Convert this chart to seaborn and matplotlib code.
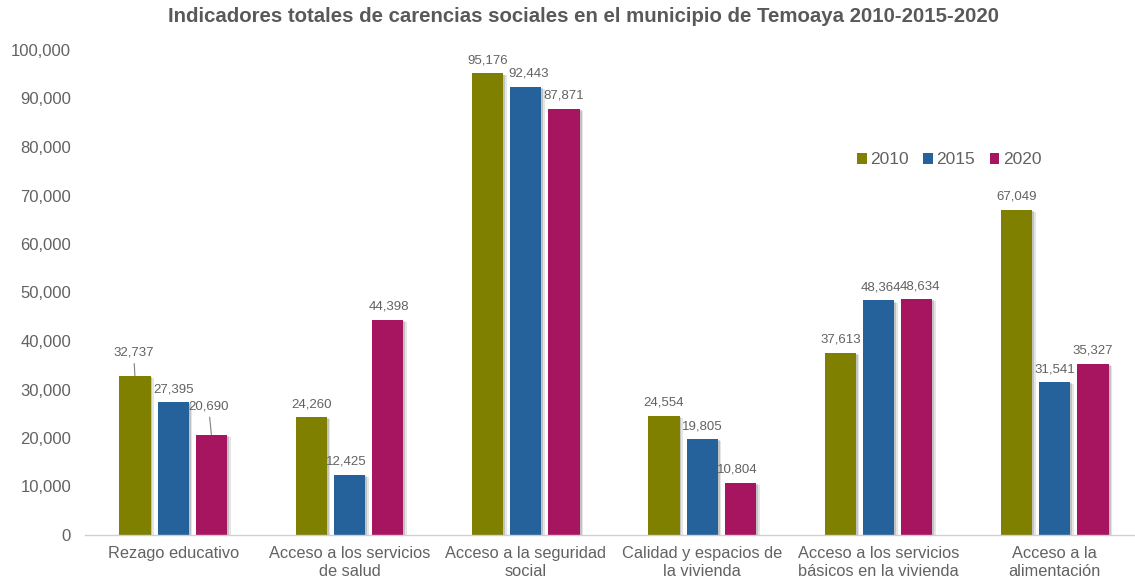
import matplotlib
matplotlib.use("Agg")
import matplotlib.pyplot as plt
import matplotlib.patheffects as pe
import seaborn as sns
import pandas as pd

categories = [
    "Rezago educativo",
    "Acceso a los servicios\nde salud",
    "Acceso a la seguridad\nsocial",
    "Calidad y espacios de\nla vivienda",
    "Acceso a los servicios\nbásicos en la vivienda",
    "Acceso a la\nalimentación",
]
years = ["2010", "2015", "2020"]
values_2010 = [32737, 24260, 95176, 24554, 37613, 67049]
values_2015 = [27395, 12425, 92443, 19805, 48364, 31541]
values_2020 = [20690, 44398, 87871, 10804, 48634, 35327]
y_ticks = list(range(0, 100001, 10000))

colors = ["#7f8000", "#25619a", "#a7145f"]

rows = []
for yr, vals in zip(years, [values_2010, values_2015, values_2020]):
    for c, v in zip(categories, vals):
        rows.append({"cat": c, "year": yr, "value": v})
df = pd.DataFrame(rows)

sns.set_style("white")
plt.rcParams["font.family"] = ["Liberation Sans", "DejaVu Sans"]

TXT = "#626262"

fig = plt.figure(figsize=(11.35, 5.88), dpi=100)
ax = fig.add_axes([85 / 1135, 53 / 588, (1143 - 85) / 1135, 485 / 588])

sns.barplot(data=df, x="cat", y="value", hue="year", order=categories,
            hue_order=years, palette=colors, width=0.65, gap=0.18,
            saturation=1, ax=ax, legend=True)

shadow = [pe.SimplePatchShadow(offset=(2.5, -1.5), shadow_rgbFace="#000000", alpha=0.10),
          pe.SimplePatchShadow(offset=(1.3, -0.8), shadow_rgbFace="#000000", alpha=0.15),
          pe.Normal()]
for p in ax.patches:
    p.set_edgecolor("none")

bars_by_year = {}
for container, yr in zip(ax.containers, years):
    bars_by_year[yr] = list(container)
    for b in container:
        b.set_path_effects(shadow)

ax.set_ylim(0, 100000)
ax.set_xlim(-0.5, 5.5)
ax.set_yticks(y_ticks)
ax.set_yticklabels([f"{t:,}" for t in y_ticks])
ax.tick_params(axis="y", length=0, labelsize=12, labelcolor=TXT, pad=10)
ax.tick_params(axis="x", length=0, labelsize=11.8, labelcolor=TXT, pad=8)
ax.set_xlabel("")
ax.set_ylabel("")
for s in ["left", "right", "top"]:
    ax.spines[s].set_visible(False)
ax.spines["bottom"].set_color("#d0d0d0")
ax.spines["bottom"].set_linewidth(1)

# label offsets (points) per series, per category
offsets = {
    "2010": [(-1, 12.5), (0, 5), (0, 5), (0, 5), (0, 5), (0, 5)],
    "2015": [(0, 5), (-2, 5), (2, 5), (0, 5), (2, 5), (0, 5)],
    "2020": [(-2, 16), (1, 5), (0, 5), (-2, 5), (2, 5), (0, 5)],
}
leaders = {("2010", 0), ("2020", 0)}

for yr, vals in zip(years, [values_2010, values_2015, values_2020]):
    for i, (bar, v) in enumerate(zip(bars_by_year[yr], vals)):
        x = bar.get_x() + bar.get_width() / 2
        dx, dy = offsets[yr][i]
        kw = {}
        if (yr, i) in leaders:
            kw["arrowprops"] = dict(arrowstyle="-", color="#808080", lw=0.8,
                                    shrinkA=1, shrinkB=0)
        ax.annotate(f"{v:,}", xy=(x, v), xytext=(dx, dy), textcoords="offset points",
                    ha="center", va="bottom", fontsize=9.5, color=TXT, **kw)

leg = ax.legend(loc="center left", bbox_to_anchor=(772 / 1058, 1 - (163 - 53) / 485), ncol=3,
                frameon=False, fontsize=12.5, handlelength=0.55, handleheight=0.55,
                handletextpad=0.2, columnspacing=0.85, borderaxespad=0, borderpad=0)
for h in leg.legend_handles:
    h.set_path_effects([])
for t in leg.get_texts():
    t.set_color(TXT)

fig.text(583 / 1135, 1 - 17 / 588, "Indicadores totales de carencias sociales en el municipio de Temoaya 2010-2015-2020",
         ha="center", va="center", fontsize=14.7, fontweight="bold", color="#595959")

fig.savefig("out.png", dpi=100)
